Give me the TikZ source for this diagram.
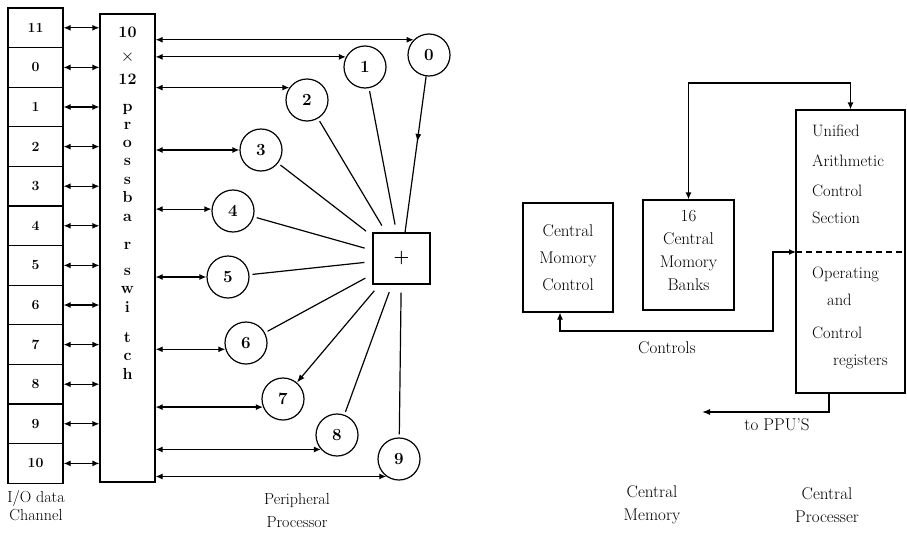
\documentclass[tikz,border=0pt]{standalone}
\usetikzlibrary{arrows.meta,decorations.markings}
\begin{document}
\begin{tikzpicture}[x=1pt,y=-1pt,
  lw/.style={line width=1.2pt},
  tip/.style={-{Latex[length=8pt,width=6pt]}},
  dbl/.style={lw,{Latex[length=7pt,width=6pt]}-{Latex[length=7pt,width=6pt]}},
  iobox/.style={draw,lw,minimum width=55pt,minimum height=39.6pt,inner sep=0pt,font=\fontsize{14}{15}\selectfont\bfseries},
  ppc/.style={draw,lw,circle,minimum size=42pt,inner sep=0pt,font=\fontsize{17}{17}\selectfont\bfseries},
  lbl/.style={font=\fontsize{17}{19}\selectfont,align=center,inner sep=0pt},
  xl/.style={font=\fontsize{16}{16}\selectfont\bfseries,text height=8pt,text depth=0pt,inner sep=0pt},
  ut/.style={font=\fontsize{16.5}{17}\selectfont,anchor=west,text height=10pt,text depth=3pt,inner sep=0pt},
]
\useasboundingbox (0,0) rectangle (907,533);
% I/O channel boxes
\foreach \lab [count=\i from 0] in {11,0,1,2,3,4,5,6,7,8,9,10} {
  \node[iobox] (r\i) at (35.5,{8+39.6*(\i+0.5)}) {\lab};
}
% crossbar
\node[draw,lw,minimum width=55pt,minimum height=468pt] (xb) at (127.5,248) {};
\foreach \i in {0,...,11} \draw[dbl] (r\i.east) -- (r\i.east -| xb.west);
\foreach \t/\yy [count=\k] in {10/33,{$\times$}/57,12/80,p/107,r/125,o/143,s/161,s/180,b/198,a/217,r/245,s/271,w/289,i/308,t/338,c/356,h/375}
  \node[xl] (xt\k) at (127.5,\yy) {\t};
% peripheral processors
\node[ppc] (c0) at (429,55) {0};
\node[ppc] (c1) at (365,67) {1};
\node[ppc] (c2) at (307,100) {2};
\node[ppc] (c3) at (261,150) {3};
\node[ppc] (c4) at (233,211) {4};
\node[ppc] (c5) at (228,277) {5};
\node[ppc] (c6) at (246,343) {6};
\node[ppc] (c7) at (283,399) {7};
\node[ppc] (c8) at (337,435) {8};
\node[ppc] (c9) at (399,459) {9};
\node[draw,lw,minimum width=57pt,minimum height=51pt,font=\fontsize{18}{18}\selectfont\bfseries] (pb) at (401.5,258.5) {+};
\foreach \n/\a in {0/135,1/152,2/145,3/180,4/175,5/180,6/197,7/202,8/222,9/234}
  \draw[dbl] (c\n.\a -| xb.east) -- (c\n.\a);
\draw[lw,postaction={decorate},decoration={markings,mark=at position 0.42 with {\arrow{Latex[length=8pt,width=6pt]}}}] (c0) -- (pb);
\foreach \n in {1,...,6,8,9} \draw[lw,shorten <=3pt,shorten >=8pt] (c\n) -- (pb);
\draw[lw,tip,shorten <=8pt] (pb) -- (c7);
\node[lbl,font=\fontsize{16}{18}\selectfont] (io) at (36,506) {I/O data\\Channel};
\node[lbl,font=\fontsize{16}{23}\selectfont] (ppl) at (297,511) {Peripheral\\Processor};
% central memory / processor
\node[draw,lw,minimum width=90pt,minimum height=109pt,lbl,font=\fontsize{17}{27}\selectfont] (cmc) at (568,257.5) {Central\\Momory\\Control};
\node[draw,lw,minimum width=91pt,minimum height=110pt] (cmb) at (688.5,255) {};
\node[lbl,font=\fontsize{17}{23}\selectfont] (cmbt) at (688.5,250) {16\\Central\\Momory\\Banks};
\node[draw,lw,minimum width=109pt,minimum height=283pt] (ucs) at (850.5,251.5) {};
\node[ut] (u1) at (812,133) {Unified};
\node[ut] (u2) at (812,163) {Arithmetic};
\node[ut] (u3) at (812,193) {Control};
\node[ut] (u4) at (812,220) {Section};
\node[ut] (u5) at (812,275) {Operating};
\node[ut] (u6) at (827,302) {and};
\node[ut] (u7) at (812,335) {Control};
\node[ut] (u8) at (833,362) {registers};
\coordinate (dl) at (796,252);
\draw[lw,dashed,dash pattern=on 6pt off 4pt] (dl) -- (ucs.east |- dl);
\draw[dbl] (cmb.north) -- (cmb.north |- 0,83) -| (ucs.north);
\coordinate (cc) at (773,331);
\draw[dbl] ([xshift=-8pt]cmc.south) |- (cc) |- (dl);
\coordinate (pp) at (702,412);
\draw[lw,tip] ([xshift=-21.5pt]ucs.south) |- (pp);
\node[lbl] (ctl) at (667,348) {Controls};
\node[lbl] (ppu) at (777,425) {to PPU'S};
\node[lbl,font=\fontsize{17}{23}\selectfont] (cm) at (652,505) {Central\\Memory};
\node[lbl,font=\fontsize{17}{23}\selectfont] (cp) at (827,505) {Central\\Processer};
\end{tikzpicture}
\end{document}
